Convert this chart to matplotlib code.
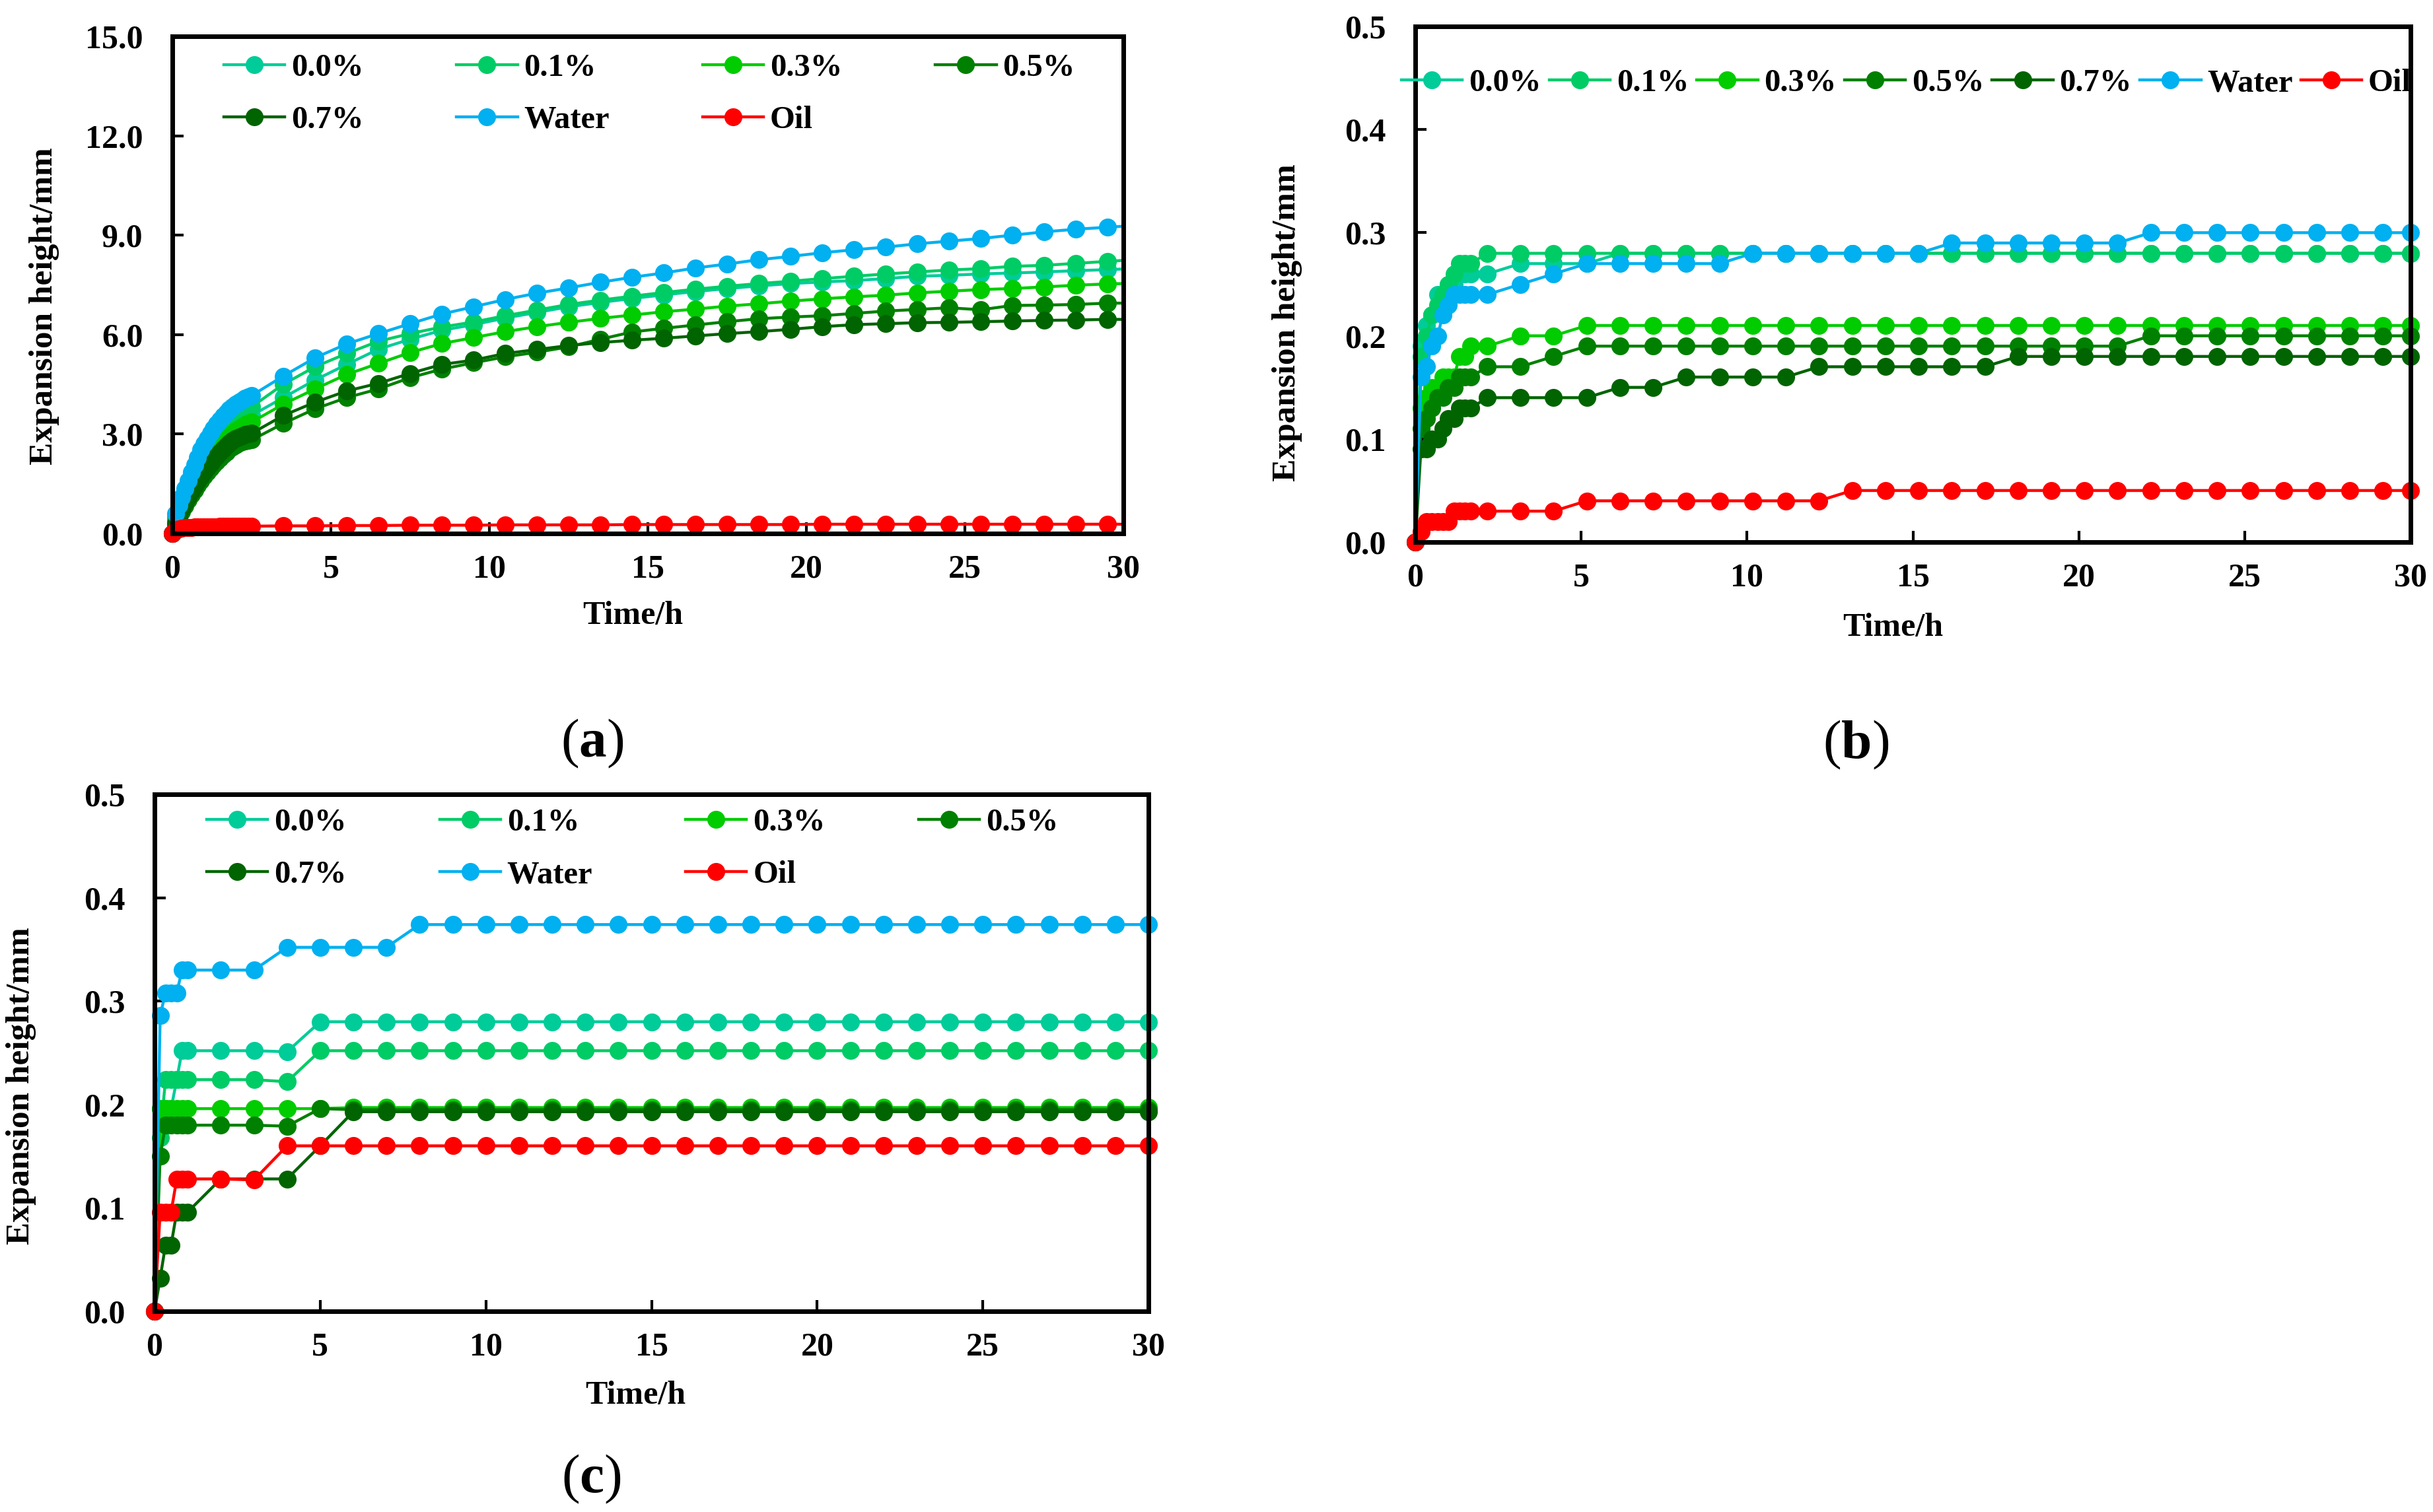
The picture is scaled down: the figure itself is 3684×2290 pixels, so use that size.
import matplotlib
matplotlib.use('Agg')
import matplotlib.pyplot as plt
from matplotlib.ticker import MultipleLocator, FormatStrFormatter

# ---------------- data ----------------
labels = ['0.0%', '0.1%', '0.3%', '0.5%', '0.7%', 'Water', 'Oil']
colors = ['#00CC99', '#00CC66', '#00CC00', '#008000', '#006400', '#00B0F0', '#FF0000']

# panel (a)
time_a = [0.0, 0.1, 0.2, 0.3, 0.4, 0.5, 0.6, 0.7, 0.8, 0.9, 1.0, 1.1, 1.2, 1.3, 1.4,
          1.5, 1.6, 1.7, 1.8, 1.9, 2.0, 2.1, 2.2, 2.3, 2.4, 2.5,
          3.5, 4.5, 5.5, 6.5, 7.5, 8.5, 9.5, 10.5, 11.5, 12.5, 13.5, 14.5, 15.5, 16.5,
          17.5, 18.5, 19.5, 20.5, 21.5, 22.5, 23.5, 24.5, 25.5, 26.5, 27.5, 28.5, 29.5,
          30.0]
a_00 = [0.0, 0.45, 0.7, 0.92, 1.12, 1.32, 1.52, 1.71, 1.89, 2.06, 2.22, 2.37, 2.51, 2.64, 2.76,
        2.88, 2.99, 3.09, 3.18, 3.27, 3.34, 3.41, 3.46, 3.5, 3.53, 3.56,
        4.1, 4.63, 5.1, 5.56, 5.86, 6.13, 6.3, 6.5, 6.67, 6.84, 6.97, 7.09, 7.2, 7.3,
        7.39, 7.47, 7.54, 7.59, 7.63, 7.69, 7.76, 7.79, 7.83, 7.86, 7.89, 7.93, 7.96,
        7.98]
a_01 = [0.0, 0.5, 0.75, 0.98, 1.2, 1.42, 1.64, 1.85, 2.05, 2.24, 2.42, 2.58, 2.73, 2.87, 3.0,
        3.12, 3.23, 3.33, 3.42, 3.5, 3.57, 3.64, 3.7, 3.75, 3.79, 3.82,
        4.5, 5.03, 5.43, 5.8, 6.03, 6.23, 6.38, 6.57, 6.74, 6.91, 7.04, 7.16, 7.27, 7.37,
        7.46, 7.54, 7.61, 7.69, 7.76, 7.83, 7.89, 7.95, 7.99, 8.06, 8.09, 8.15, 8.21,
        8.24]
a_03 = [0.0, 0.4, 0.63, 0.84, 1.03, 1.22, 1.4, 1.57, 1.73, 1.88, 2.02, 2.16, 2.29, 2.41, 2.53,
        2.64, 2.74, 2.84, 2.93, 3.02, 3.1, 3.17, 3.23, 3.28, 3.32, 3.36,
        3.9, 4.36, 4.8, 5.13, 5.46, 5.73, 5.91, 6.09, 6.24, 6.37, 6.49, 6.59, 6.69, 6.77,
        6.86, 6.93, 7.01, 7.08, 7.14, 7.19, 7.26, 7.31, 7.36, 7.39, 7.44, 7.49, 7.53,
        7.54]
a_05 = [0.0, 0.25, 0.46, 0.66, 0.84, 1.01, 1.17, 1.32, 1.46, 1.6, 1.73, 1.85, 1.97, 2.08, 2.18,
        2.28, 2.37, 2.46, 2.54, 2.61, 2.67, 2.72, 2.76, 2.79, 2.81, 2.82,
        3.32, 3.76, 4.1, 4.36, 4.7, 4.96, 5.15, 5.33, 5.47, 5.63, 5.86, 6.08, 6.19, 6.29,
        6.39, 6.48, 6.53, 6.57, 6.64, 6.71, 6.76, 6.81, 6.75, 6.88, 6.89, 6.91, 6.95,
        6.95]
a_07 = [0.0, 0.3, 0.52, 0.73, 0.92, 1.1, 1.27, 1.43, 1.58, 1.72, 1.86, 1.99, 2.11, 2.23, 2.34,
        2.45, 2.55, 2.64, 2.72, 2.8, 2.86, 2.91, 2.95, 2.98, 3.0, 3.02,
        3.56, 3.96, 4.3, 4.53, 4.83, 5.1, 5.23, 5.43, 5.55, 5.67, 5.76, 5.83, 5.89, 5.96,
        6.03, 6.09, 6.16, 6.24, 6.3, 6.33, 6.36, 6.37, 6.39, 6.41, 6.43, 6.44, 6.46,
        6.46]
a_water = [0.0, 0.6, 0.85, 1.1, 1.35, 1.6, 1.85, 2.08, 2.3, 2.52, 2.7, 2.87, 3.02, 3.16, 3.3,
           3.43, 3.55, 3.65, 3.74, 3.82, 3.9, 3.97, 4.03, 4.08, 4.12, 4.16,
           4.75, 5.3, 5.72, 6.03, 6.33, 6.62, 6.84, 7.06, 7.25, 7.41, 7.58, 7.73, 7.86, 8.01,
           8.13, 8.26, 8.36, 8.47, 8.56, 8.64, 8.74, 8.82, 8.9, 9.0, 9.1, 9.18, 9.24,
           9.27]
a_oil = [0.0, 0.1, 0.14, 0.16, 0.17, 0.18, 0.18, 0.19, 0.19, 0.19, 0.2, 0.2, 0.2, 0.2, 0.2,
         0.21, 0.21, 0.21, 0.21, 0.21, 0.21, 0.22, 0.22, 0.22, 0.22, 0.22,
         0.23, 0.23, 0.24, 0.24, 0.25, 0.25, 0.25, 0.26, 0.26, 0.26, 0.26, 0.27, 0.27, 0.27,
         0.27, 0.27, 0.27, 0.28, 0.28, 0.28, 0.28, 0.28, 0.28, 0.28, 0.28, 0.28, 0.28,
         0.28]

# panel (b)
time_b = [0.0, 0.17, 0.33, 0.5, 0.67, 0.83, 1.0, 1.17, 1.33, 1.5, 1.67,
          2.17, 3.17, 4.17, 5.17, 6.17, 7.17, 8.17, 9.17, 10.17, 11.17, 12.17, 13.17, 14.17,
          15.17, 16.17, 17.17, 18.17, 19.17, 20.17, 21.17, 22.17, 23.17, 24.17, 25.17,
          26.17, 27.17, 28.17, 29.17, 30.0]
b_00 = [0.0, 0.19, 0.21, 0.22, 0.24, 0.24, 0.25, 0.25, 0.26, 0.26, 0.26,
        0.26, 0.27, 0.27, 0.27, 0.28, 0.28, 0.28, 0.28, 0.28, 0.28, 0.28, 0.28, 0.28,
        0.28, 0.28, 0.28, 0.28, 0.28, 0.28, 0.28, 0.28, 0.28, 0.28, 0.28,
        0.28, 0.28, 0.28, 0.28, 0.28]
b_01 = [0.0, 0.18, 0.2, 0.22, 0.23, 0.24, 0.25, 0.26, 0.27, 0.27, 0.27,
        0.28, 0.28, 0.28, 0.28, 0.28, 0.28, 0.28, 0.28, 0.28, 0.28, 0.28, 0.28, 0.28,
        0.28, 0.28, 0.28, 0.28, 0.28, 0.28, 0.28, 0.28, 0.28, 0.28, 0.28,
        0.28, 0.28, 0.28, 0.28, 0.28]
b_03 = [0.0, 0.13, 0.14, 0.15, 0.15, 0.16, 0.16, 0.16, 0.18, 0.18, 0.19,
        0.19, 0.2, 0.2, 0.21, 0.21, 0.21, 0.21, 0.21, 0.21, 0.21, 0.21, 0.21, 0.21,
        0.21, 0.21, 0.21, 0.21, 0.21, 0.21, 0.21, 0.21, 0.21, 0.21, 0.21,
        0.21, 0.21, 0.21, 0.21, 0.21]
b_05 = [0.0, 0.11, 0.12, 0.13, 0.14, 0.14, 0.15, 0.15, 0.16, 0.16, 0.16,
        0.17, 0.17, 0.18, 0.19, 0.19, 0.19, 0.19, 0.19, 0.19, 0.19, 0.19, 0.19, 0.19,
        0.19, 0.19, 0.19, 0.19, 0.19, 0.19, 0.19, 0.2, 0.2, 0.2, 0.2,
        0.2, 0.2, 0.2, 0.2, 0.2]
b_07 = [0.0, 0.09, 0.09, 0.1, 0.1, 0.11, 0.12, 0.12, 0.13, 0.13, 0.13,
        0.14, 0.14, 0.14, 0.14, 0.15, 0.15, 0.16, 0.16, 0.16, 0.16, 0.17, 0.17, 0.17,
        0.17, 0.17, 0.17, 0.18, 0.18, 0.18, 0.18, 0.18, 0.18, 0.18, 0.18,
        0.18, 0.18, 0.18, 0.18, 0.18]
b_water = [0.0, 0.16, 0.17, 0.19, 0.2, 0.22, 0.23, 0.24, 0.24, 0.24, 0.24,
           0.24, 0.25, 0.26, 0.27, 0.27, 0.27, 0.27, 0.27, 0.28, 0.28, 0.28, 0.28, 0.28,
           0.28, 0.29, 0.29, 0.29, 0.29, 0.29, 0.29, 0.3, 0.3, 0.3, 0.3,
           0.3, 0.3, 0.3, 0.3, 0.3]
b_oil = [0.0, 0.01, 0.02, 0.02, 0.02, 0.02, 0.02, 0.03, 0.03, 0.03, 0.03,
         0.03, 0.03, 0.03, 0.04, 0.04, 0.04, 0.04, 0.04, 0.04, 0.04, 0.04, 0.05, 0.05,
         0.05, 0.05, 0.05, 0.05, 0.05, 0.05, 0.05, 0.05, 0.05, 0.05, 0.05,
         0.05, 0.05, 0.05, 0.05, 0.05]

# panel (c)
time_c = [0.0, 0.17, 0.33, 0.5, 0.67, 0.83, 1.0,
          2, 3, 4, 5, 6, 7, 8, 9, 10, 11, 12, 13, 14, 15, 16, 17, 18, 19, 20,
          21, 22, 23, 24, 25, 26, 27, 28, 29, 30]
c_00 = [0.0, 0.196, 0.196, 0.196, 0.224, 0.252, 0.252,
        0.252, 0.252, 0.251, 0.28, 0.28, 0.28, 0.28, 0.28, 0.28, 0.28, 0.28, 0.28, 0.28,
        0.28, 0.28, 0.28, 0.28, 0.28, 0.28, 0.28, 0.28, 0.28, 0.28, 0.28, 0.28, 0.28,
        0.28, 0.28, 0.28]
c_01 = [0.0, 0.168, 0.224, 0.224, 0.224, 0.224, 0.224,
        0.224, 0.224, 0.222, 0.252, 0.252, 0.252, 0.252, 0.252, 0.252, 0.252, 0.252,
        0.252, 0.252, 0.252, 0.252, 0.252, 0.252, 0.252, 0.252, 0.252, 0.252, 0.252,
        0.252, 0.252, 0.252, 0.252, 0.252, 0.252, 0.252]
c_03 = [0.0, 0.196, 0.196, 0.196, 0.196, 0.196, 0.196,
        0.196, 0.196, 0.196, 0.196, 0.197, 0.197, 0.197, 0.197, 0.197, 0.197, 0.197,
        0.197, 0.197, 0.197, 0.197, 0.197, 0.197, 0.197, 0.197, 0.197, 0.197, 0.197,
        0.197, 0.197, 0.197, 0.197, 0.197, 0.197, 0.197]
c_05 = [0.0, 0.15, 0.18, 0.18, 0.18, 0.18, 0.18,
        0.18, 0.18, 0.179, 0.196, 0.195, 0.195, 0.195, 0.195, 0.195, 0.195, 0.195,
        0.195, 0.195, 0.195, 0.195, 0.195, 0.195, 0.195, 0.195, 0.195, 0.195, 0.195,
        0.195, 0.195, 0.195, 0.195, 0.195, 0.195, 0.195]
c_07 = [0.0, 0.032, 0.064, 0.064, 0.096, 0.096, 0.096,
        0.128, 0.128, 0.128, 0.16, 0.193, 0.193, 0.193, 0.193, 0.193, 0.193, 0.193,
        0.193, 0.193, 0.193, 0.193, 0.193, 0.193, 0.193, 0.193, 0.193, 0.193, 0.193,
        0.193, 0.193, 0.193, 0.193, 0.193, 0.193, 0.193]
c_water = [0.0, 0.286, 0.308, 0.308, 0.308, 0.33, 0.33,
           0.33, 0.33, 0.352, 0.352, 0.352, 0.352, 0.374, 0.374, 0.374, 0.374, 0.374,
           0.374, 0.374, 0.374, 0.374, 0.374, 0.374, 0.374, 0.374, 0.374, 0.374, 0.374,
           0.374, 0.374, 0.374, 0.374, 0.374, 0.374, 0.374]
c_oil = [0.0, 0.096, 0.096, 0.096, 0.128, 0.128, 0.128,
         0.128, 0.127, 0.16, 0.16, 0.16, 0.16, 0.16, 0.16, 0.16, 0.16, 0.16,
         0.16, 0.16, 0.16, 0.16, 0.16, 0.16, 0.16, 0.16, 0.16, 0.16, 0.16,
         0.16, 0.16, 0.16, 0.16, 0.16, 0.16, 0.16]

x_ticks = [0, 5, 10, 15, 20, 25, 30]
x_label = 'Time/h'
y_label = 'Expansion height/mm'

# ---------------- style ----------------
plt.rcParams['font.family'] = ['Liberation Serif', 'DejaVu Serif']
plt.rcParams['font.weight'] = 'bold'
plt.rcParams['mathtext.fontset'] = 'custom'
plt.rcParams['mathtext.rm'] = 'Liberation Serif'
plt.rcParams['mathtext.bf'] = 'Liberation Serif:bold'

W, H = 3684, 2290
fig = plt.figure(figsize=(W / 100, H / 100), dpi=100)

LEG_FS = 35


def px_axes(l, t, r, b):
    return fig.add_axes([l / W, 1 - b / H, (r - l) / W, (b - t) / H])


def draw_panel(ax, t, series, ymax, ystep, marker_last=True):
    lines = []
    for vals, col, lab in zip(series, colors, labels):
        me = None if marker_last else list(range(len(t) - 1))
        ln, = ax.plot(t, vals, color=col, lw=3.2, marker='o', markersize=19.5,
                      markeredgewidth=0, markevery=me, label=lab, clip_on=False,
                      solid_joinstyle='round')
        lines.append(ln)
    ax.set_xlim(0, 30)
    ax.set_ylim(0, ymax)
    ax.set_xticks(x_ticks)
    ax.yaxis.set_major_locator(MultipleLocator(ystep))
    ax.yaxis.set_major_formatter(FormatStrFormatter('%.1f'))
    ax.tick_params(direction='in', length=12, width=3, labelsize=36,
                   top=False, right=False)
    ax.tick_params(axis='x', pad=23)
    ax.tick_params(axis='y', pad=32)
    for s in ax.spines.values():
        s.set_linewidth(5)
        s.set_zorder(5)
    ax.set_xlabel(x_label, fontsize=36, fontweight='bold')
    ax.set_ylabel(y_label, fontsize=37, fontweight='bold')
    ax.xaxis.label.set_va('center')
    ax.yaxis.label.set_va('center')
    return lines


order = [0, 4, 1, 5, 2, 6, 3]

# (a)
ax_a = px_axes(261, 55, 1701, 808)
la = draw_panel(ax_a, time_a, [a_00, a_01, a_03, a_05, a_07, a_water, a_oil], 15.0, 3.0,
                marker_last=False)
ax_a.xaxis.set_label_coords(0.484, -0.166)
ax_a.yaxis.set_label_coords(-0.135, 0.458)
ax_a.legend([la[i] for i in order], [labels[i] for i in order], ncol=4, loc='upper left',
            bbox_to_anchor=(0.054, 0.966), frameon=False, fontsize=LEG_FS,
            handlelength=1.9, handletextpad=0.2, columnspacing=2.9, labelspacing=0.72,
            borderpad=0, borderaxespad=0)

# (b)
ax_b = px_axes(2143, 40, 3650, 821)
lb = draw_panel(ax_b, time_b, [b_00, b_01, b_03, b_05, b_07, b_water, b_oil], 0.5, 0.1)
ax_b.xaxis.set_label_coords(0.48, -0.166)
ax_b.yaxis.set_label_coords(-0.129, 0.425)
ax_b.legend(lb, labels, ncol=7, loc='upper left', bbox_to_anchor=(-0.014, 0.918),
            frameon=False, fontsize=LEG_FS, handlelength=1.9, handletextpad=0.2,
            columnspacing=0.25, borderpad=0, borderaxespad=0)

# (c)
ax_c = px_axes(234, 1203, 1739, 1986)
lc = draw_panel(ax_c, time_c, [c_00, c_01, c_03, c_05, c_07, c_water, c_oil], 0.5, 0.1)
ax_c.xaxis.set_label_coords(0.484, -0.163)
ax_c.yaxis.set_label_coords(-0.134, 0.436)
ax_c.legend([lc[i] for i in order], [labels[i] for i in order], ncol=4, loc='upper left',
            bbox_to_anchor=(0.0525, 0.973), frameon=False, fontsize=LEG_FS,
            handlelength=1.9, handletextpad=0.2, columnspacing=2.9, labelspacing=0.72,
            borderpad=0, borderaxespad=0)

# panel letters
for x, y, letter in [(897, 1126, 'a'), (2810, 1128, 'b'), (895, 2240, 'c')]:
    fig.text(x / W, 1 - y / H, '($\\mathbf{' + letter + '}$)', fontsize=60,
             fontweight='normal', ha='center', va='center')

fig.savefig('out.png', dpi=100)
